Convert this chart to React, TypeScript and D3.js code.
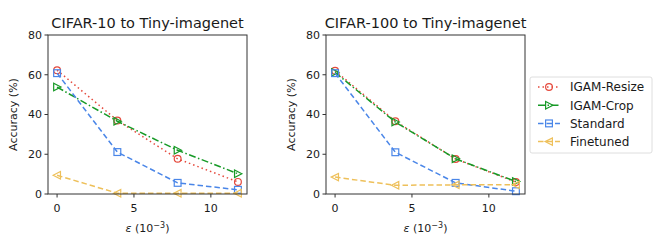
import React, { useEffect, useRef } from 'react';
import * as d3 from 'd3';

const epsilons = [0, 3.92, 7.84, 11.76];
const xTicks = [0, 5, 10];
const yTicks = [0, 20, 40, 60, 80];

const seriesNames = ['IGAM-Resize', 'IGAM-Crop', 'Standard', 'Finetuned'];

const cifar10Resize = [62.3, 37, 17.7, 6.1];
const cifar10Crop = [53.8, 36.6, 22, 10.2];
const cifar10Standard = [60.8, 21.1, 5.6, 2.1];
const cifar10Finetuned = [9.4, 0.4, 0.4, 0.4];

const cifar100Resize = [62, 36.6, 17.6, 6];
const cifar100Crop = [61.2, 36.2, 17.7, 6.3];
const cifar100Standard = [60.8, 21, 5.6, 1.4];
const cifar100Finetuned = [8.5, 4.4, 4.6, 4.6];

const styles = [
  { color: '#e5493c', dash: '1.5,3', marker: 'circle' },
  { color: '#179a27', dash: '7,2.5,1.5,2.5', marker: 'right' },
  { color: '#4a86e8', dash: '5.5,3', marker: 'square' },
  { color: '#eec05a', dash: '5.5,3', marker: 'left' },
];

const panels = [
  { title: 'CIFAR-10 to Tiny-imagenet', left: 48, series: [cifar10Resize, cifar10Crop, cifar10Standard, cifar10Finetuned] },
  { title: 'CIFAR-100 to Tiny-imagenet', left: 326, series: [cifar100Resize, cifar100Crop, cifar100Standard, cifar100Finetuned] },
];

const FONT = 'DejaVu Sans, sans-serif';

function drawMarker(g: d3.Selection<SVGGElement, unknown, null, undefined>, kind: string, x: number, y: number, color: string) {
  const r = 3.4;
  if (kind === 'circle') {
    g.append('circle').attr('cx', x).attr('cy', y).attr('r', r)
      .attr('fill', 'none').attr('stroke', color).attr('stroke-width', 1.2);
  } else if (kind === 'square') {
    g.append('rect').attr('x', x - r).attr('y', y - r).attr('width', 2 * r).attr('height', 2 * r)
      .attr('fill', 'none').attr('stroke', color).attr('stroke-width', 1.2);
  } else {
    const s = kind === 'right' ? 1 : -1;
    const pts = [[x + s * r * 1.15, y], [x - s * r, y - r * 1.1], [x - s * r, y + r * 1.1]];
    g.append('path').attr('d', 'M' + pts.map(p => p.join(',')).join('L') + 'Z')
      .attr('fill', 'none').attr('stroke', color).attr('stroke-width', 1.2);
  }
}

const App: React.FC = () => {
  const svgRef = useRef<SVGSVGElement | null>(null);

  useEffect(() => {
    if (!svgRef.current) return;
    const svg = d3.select(svgRef.current);
    svg.selectAll('*').remove();

    const top = 35;
    const bottom = 194;
    const w = 199;

    panels.forEach(p => {
      const x = d3.scaleLinear().domain([-0.59, 12.35]).range([p.left, p.left + w]);
      const y = d3.scaleLinear().domain([0, 80]).range([bottom, top]);
      const g = svg.append('g');

      // title
      g.append('text').attr('x', p.left + w / 2).attr('y', 28)
        .attr('text-anchor', 'middle').attr('font-family', FONT).attr('font-size', 14.5)
        .attr('fill', '#1a1a1a').text(p.title);

      // lines & markers
      p.series.forEach((vals, i) => {
        const st = styles[i];
        const line = d3.line<number>().x((_, j) => x(epsilons[j])).y(d => y(d));
        g.append('path').attr('d', line(vals)).attr('fill', 'none')
          .attr('stroke', st.color).attr('stroke-width', 1.5)
          .attr('stroke-dasharray', st.dash);
        const mg = g.append('g');
        vals.forEach((v, j) => drawMarker(mg, st.marker, x(epsilons[j]), y(v), st.color));
      });

      // frame
      g.append('rect').attr('x', p.left).attr('y', top).attr('width', w).attr('height', bottom - top)
        .attr('fill', 'none').attr('stroke', '#333').attr('stroke-width', 1);

      // x ticks
      xTicks.forEach(t => {
        g.append('line').attr('x1', x(t)).attr('x2', x(t)).attr('y1', bottom).attr('y2', bottom + 3.5)
          .attr('stroke', '#333');
        g.append('text').attr('x', x(t)).attr('y', 212).attr('text-anchor', 'middle')
          .attr('font-family', FONT).attr('font-size', 11).attr('fill', '#1a1a1a').text(t);
      });
      // y ticks
      yTicks.forEach(t => {
        g.append('line').attr('x1', p.left - 3.5).attr('x2', p.left).attr('y1', y(t)).attr('y2', y(t))
          .attr('stroke', '#333');
        g.append('text').attr('x', p.left - 6).attr('y', y(t)).attr('dy', '0.36em').attr('text-anchor', 'end')
          .attr('font-family', FONT).attr('font-size', 11).attr('fill', '#1a1a1a').text(t);
      });

      // axis labels
      const xl = g.append('text').attr('x', p.left + w / 2).attr('y', 232).attr('text-anchor', 'middle')
        .attr('font-family', FONT).attr('font-size', 11).attr('fill', '#1a1a1a');
      xl.append('tspan').attr('font-style', 'italic').text('ε');
      xl.append('tspan').text(' (10');
      xl.append('tspan').attr('font-size', 8).attr('dy', -4.5).text('−3');
      xl.append('tspan').attr('dy', 4.5).text(')');

      g.append('text').attr('transform', `translate(${p.left - 31},${(top + bottom) / 2}) rotate(-90)`)
        .attr('text-anchor', 'middle').attr('font-family', FONT).attr('font-size', 11)
        .attr('fill', '#1a1a1a').text('Accuracy (%)');
    });

    // legend
    const lg = svg.append('g');
    lg.append('rect').attr('x', 530).attr('y', 77).attr('width', 122).attr('height', 76).attr('rx', 2)
      .attr('fill', 'white').attr('stroke', '#d5d5d5').attr('stroke-width', 0.8);
    seriesNames.forEach((name, i) => {
      const st = styles[i];
      const cy = 87 + i * 18.2;
      lg.append('line').attr('x1', 538).attr('x2', 560).attr('y1', cy).attr('y2', cy)
        .attr('stroke', st.color).attr('stroke-width', 1.5).attr('stroke-dasharray', st.dash);
      drawMarker(lg, st.marker, 549, cy, st.color);
      lg.append('text').attr('x', 570).attr('y', cy).attr('dy', '0.36em')
        .attr('font-family', FONT).attr('font-size', 12).attr('fill', '#1a1a1a').text(name);
    });
  }, []);

  return (
    <svg ref={svgRef} width={664} height={247}
      style={{ position: 'absolute', left: 0, top: 0, background: 'white' }} />
  );
};

export default App;
